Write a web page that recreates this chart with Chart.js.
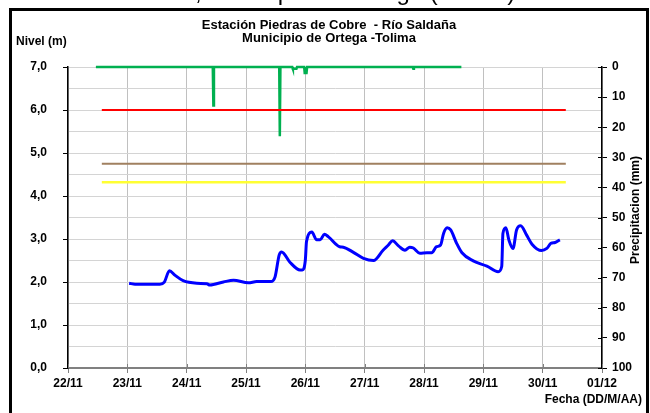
<!DOCTYPE html>
<html>
<head>
<meta charset="utf-8">
<script src="https://cdn.jsdelivr.net/npm/chart.js@4.4.1/dist/chart.umd.min.js"></script>
<style>
  html, body { margin: 0; padding: 0; background: #fff; }
</style>
</head>
<body>
<canvas id="grafico" width="650" height="413"></canvas>
<script>
// etiquetas del eje X (dias desde el 22/11)
const fechas = ['22/11', '23/11', '24/11', '25/11', '26/11', '27/11', '28/11', '29/11', '30/11', '01/12'];

const titulo = ['Estación Piedras de Cobre  - Río Saldaña', 'Municipio de Ortega -Tolima'];
const leyendaSuperior = ['Nivel del río Saldaña', ', Municipio de Ortega (Tolima)'];

// nivel del rio (m)
const nivelDias = [1.03, 1.13, 1.55, 1.62, 1.71, 1.80, 1.94, 2.17, 2.34, 2.39,
  2.62, 2.79, 3.04, 3.18, 3.42, 3.49, 3.56, 3.60, 3.74, 3.91,
  3.95, 4.00, 4.02, 4.11, 4.19, 4.25, 4.32, 4.39, 4.58, 4.64,
  4.81, 4.98, 5.15, 5.31, 5.40, 5.47, 5.57, 5.68, 5.76, 5.82,
  5.93, 6.05, 6.13, 6.21, 6.28, 6.33, 6.39, 6.45, 6.55, 6.64,
  6.83, 7.06, 7.25, 7.31, 7.33, 7.38, 7.43, 7.50, 7.56, 7.63,
  7.73, 7.82, 7.98, 8.07, 8.14, 8.21, 8.29];
const nivelValores = [1.97, 1.95, 1.95, 1.99, 2.26, 2.16, 2.03, 1.97, 1.96, 1.93,
  2.00, 2.04, 1.98, 2.01, 2.01, 2.12, 2.63, 2.70, 2.46, 2.28,
  2.28, 2.51, 2.94, 3.16, 2.98, 2.98, 3.11, 3.05, 2.82, 2.81,
  2.69, 2.55, 2.50, 2.74, 2.86, 2.96, 2.84, 2.74, 2.81, 2.79,
  2.67, 2.68, 2.68, 2.82, 2.86, 3.13, 3.26, 3.21, 2.90, 2.68,
  2.49, 2.37, 2.24, 2.36, 3.13, 3.26, 2.98, 2.78, 3.21, 3.31,
  3.09, 2.88, 2.73, 2.78, 2.90, 2.92, 2.98];

// precipitacion (mm)
const lluviaDias = [0.47, 2.44, 2.45, 2.46, 3.56, 3.57, 3.58, 3.78, 3.79, 3.85, 3.86,
  3.98, 3.99, 4.02, 4.03, 5.81, 5.82, 5.83, 6.63];
const lluviaValores = [0, 0, 12.8, 0, 0, 23.0, 0, 0, 0.6, 0.6, 0,
  0, 2.0, 2.0, 0, 0, 0.6, 0, 0];

// umbrales de alerta (m)
const umbralDias = [0.57, 8.39];
const umbralRojo = 6.0;
const umbralMarron = 4.75;
const umbralAmarillo = 4.32;

const familia = '"Liberation Sans", Arial, sans-serif';
const fuenteEje = { family: familia, size: 12, weight: 'bold' };

const puntos = (xs, ys) => xs.map((d, i) => ({ x: d, y: ys[i] }));
const linea = (valor) => umbralDias.map(d => ({ x: d, y: valor }));

const textos = {
  id: 'textos',
  beforeDraw(chart) {
    const ctx = chart.ctx;
    ctx.save();
    ctx.fillStyle = '#fff';
    ctx.fillRect(0, 0, chart.width, chart.height);
    ctx.restore();
  },
  afterDraw(chart) {
    const ctx = chart.ctx;
    const area = chart.chartArea;
    const xs = chart.scales.x;
    const yp = chart.scales.yP;
    ctx.save();

    // marcas que cruzan los ejes
    ctx.lineWidth = 1;
    ctx.strokeStyle = '#000';
    for (let v = 0; v <= 100; v += 10) {
      const y = Math.round(yp.getPixelForValue(v)) + 0.5;
      ctx.beginPath();
      ctx.moveTo(area.right - 4, y);
      ctx.lineTo(area.right, y);
      ctx.stroke();
    }
    ctx.strokeStyle = '#808080';
    for (let d = 0; d < fechas.length; d++) {
      const x = Math.round(xs.getPixelForValue(d)) + 0.5;
      ctx.beginPath();
      ctx.moveTo(x, area.bottom);
      ctx.lineTo(x, area.bottom - 4);
      ctx.stroke();
    }

    // leyenda recortada arriba
    ctx.fillStyle = '#000';
    ctx.font = '24px ' + familia;
    ctx.textBaseline = 'alphabetic';
    ctx.textAlign = 'left';
    const ancho = ctx.measureText(leyendaSuperior[0]).width;
    ctx.fillText(leyendaSuperior.join(''), 195 - ancho, 0);

    // marco
    ctx.lineWidth = 3;
    ctx.strokeStyle = '#000';
    ctx.strokeRect(10.5, 9.5, 637, 430);

    // titulos
    ctx.font = 'bold 13px ' + familia;
    ctx.textBaseline = 'middle';
    ctx.textAlign = 'center';
    ctx.fillText(titulo[0], 329, 25);
    ctx.fillText(titulo[1], 329, 38);
    ctx.font = 'bold 12px ' + familia;
    ctx.textAlign = 'left';
    ctx.fillText('Nivel (m)', 16, 42);
    ctx.textAlign = 'right';
    ctx.fillText('Fecha (DD/M/AA)', 642, 400);
    ctx.translate(636, 210);
    ctx.rotate(-Math.PI / 2);
    ctx.textAlign = 'center';
    ctx.fillText('Precipitacion (mm)', 0, 0);
    ctx.restore();
  }
};

new Chart(document.getElementById('grafico'), {
  type: 'line',
  data: {
    datasets: [
      { data: linea(umbralRojo), borderColor: '#ff0000', borderWidth: 2, yAxisID: 'y' },
      { data: linea(umbralMarron), borderColor: '#a08060', borderWidth: 2, yAxisID: 'y' },
      { data: linea(umbralAmarillo), borderColor: '#ffff33', borderWidth: 2.5, yAxisID: 'y' },
      { data: puntos(lluviaDias, lluviaValores), borderColor: '#00b050', borderWidth: 2.5, yAxisID: 'yP', clip: 4 },
      { data: puntos(nivelDias, nivelValores), borderColor: '#0000ff', borderWidth: 3,
        cubicInterpolationMode: 'monotone', yAxisID: 'y' }
    ]
  },
  options: {
    responsive: false,
    animation: false,
    devicePixelRatio: 1,
    elements: { point: { radius: 0 }, line: { tension: 0, borderCapStyle: 'butt' } },
    layout: { padding: { top: 67, left: 0, right: 0, bottom: 0 } },
    plugins: { legend: { display: false }, tooltip: { enabled: false }, title: { display: false } },
    scales: {
      x: {
        type: 'linear', min: 0, max: 9,
        afterFit: s => { s.height = 45; },
        ticks: { stepSize: 1, autoSkip: false, maxRotation: 0, padding: 3, color: '#000', font: fuenteEje,
          maxTicksLimit: 20, callback: v => fechas[v] },
        grid: { color: '#c0c0c0', lineWidth: 1, tickLength: 5, tickColor: '#808080' },
        border: { color: '#808080', width: 2 }
      },
      y: {
        position: 'left', min: 0, max: 7,
        afterFit: s => { s.width = 68; },
        ticks: { stepSize: 0.5, autoSkip: false, padding: 16, color: '#000', font: fuenteEje, maxTicksLimit: 20,
          callback: v => Number.isInteger(v) ? v.toFixed(1).replace('.', ',') : '' },
        grid: { color: '#d4d4d4', lineWidth: 1, tickLength: 5,
          tickColor: c => Number.isInteger(c.tick.value) ? '#000' : 'rgba(0,0,0,0)' },
        border: { color: '#000', width: 1.5 }
      },
      yP: {
        position: 'right', min: 0, max: 100, reverse: true,
        afterFit: s => { s.width = 48; },
        ticks: { stepSize: 10, autoSkip: false, padding: 5, color: '#000', font: fuenteEje, maxTicksLimit: 20 },
        grid: { drawOnChartArea: false, tickLength: 5, tickColor: '#000' },
        border: { color: '#000', width: 1.5 }
      }
    }
  },
  plugins: [textos]
});
</script>
</body>
</html>
